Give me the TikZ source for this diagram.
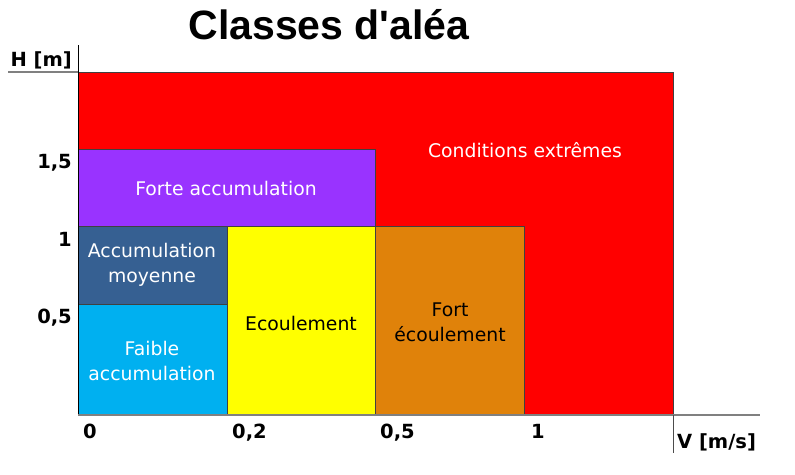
\documentclass[tikz,border=0pt]{standalone}
\usepackage{fontspec}
\setmainfont{DejaVu Sans}
\newfontfamily\titlefont{Liberation Sans}
\definecolor{zonered}{HTML}{FF0000}
\definecolor{zonepurple}{HTML}{9933FF}
\definecolor{zonedark}{HTML}{366092}
\definecolor{zonesky}{HTML}{00B0F0}
\definecolor{zoneyellow}{HTML}{FFFF00}
\definecolor{zoneorange}{HTML}{E0820A}
\begin{document}
\begin{tikzpicture}[x=1pt,y=-1pt,
  zone/.style={draw=black!75,line width=0.8pt},
  lab/.style={align=center,font=\fontsize{18.8}{25}\selectfont},
  tick/.style={font=\bfseries\fontsize{19.5}{22}\selectfont,inner sep=0pt}]
\useasboundingbox (0,0) rectangle (795,474);

% zones
\draw[zone,fill=zonered] (78,72) rectangle (673,415);
\draw[zone,fill=zonepurple] (78,149) rectangle (375,226);
\draw[zone,fill=zonedark] (78,226) rectangle (227,304);
\draw[zone,fill=zonesky] (78,304) rectangle (227,415);
\draw[zone,fill=zoneyellow] (227,226) rectangle (375,415);
\draw[zone,fill=zoneorange] (375,226) rectangle (524,415);

\node[lab,white] (extreme) at (525,150) {Conditions extrêmes};
\node[lab,white] (forte) at (226,188) {Forte accumulation};
\node[lab,white] (moyenne) at (152,265) {Accumulation\\moyenne};
\node[lab,white] (faible) at (152,361) {Faible\\accumulation};
\node[lab] (ecoul) at (301,323) {Ecoulement};
\node[lab] (fortecoul) at (450,322) {Fort\\écoulement};

% axes
\draw[black,line width=1pt] (78,45) -- (78,415);
\draw[gray,line width=1.2pt] (8,72) -- (78,72);
\draw[gray,line width=1.5pt] (78,415) -- (760,415);
\draw[black!70,line width=0.8pt] (673,415) -- (673,453);

\node[font=\titlefont\bfseries\fontsize{41}{44}\selectfont,anchor=base] (title) at (329,39) {Classes d'aléa};
\node[tick,anchor=base east] (hname) at (72,66) {H [m]};
\node[tick,anchor=base east] (h15) at (72,168) {1,5};
\node[tick,anchor=base east] (h1) at (72,246) {1};
\node[tick,anchor=base east] (h05) at (72,323) {0,5};
\node[tick,anchor=base west] (v0) at (83,438) {0};
\node[tick,anchor=base west] (v02) at (232,438) {0,2};
\node[tick,anchor=base west] (v05) at (380,438) {0,5};
\node[tick,anchor=base west] (v1) at (531,438) {1};
\node[tick,anchor=base west] (vname) at (677,448) {V [m/s]};
\end{tikzpicture}
\end{document}
